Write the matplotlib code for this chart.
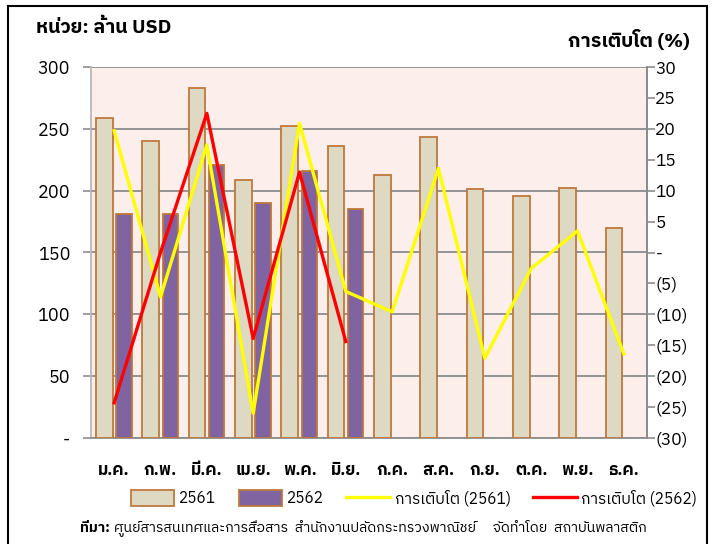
import matplotlib
matplotlib.use('Agg')
import matplotlib.pyplot as plt
from matplotlib import font_manager, ft2font
from matplotlib.patches import Rectangle, Patch
from matplotlib.lines import Line2D
import numpy as np

# pick a font that has Thai glyphs
def thaiFont():
    found = []
    for f in font_manager.fontManager.ttflist:
        try:
            if 0x0E01 in ft2font.FT2Font(f.fname).get_charmap():
                found.append(f.name)
        except Exception:
            pass
    for name in found:
        if 'Thai' in name:
            return name
    return found[0] if found else 'DejaVu Sans'

fnt = thaiFont()
plt.rcParams['font.family'] = [fnt, 'DejaVu Sans']

# data
months = ['ม.ค.', 'ก.พ.', 'มี.ค.', 'เม.ย.', 'พ.ค.', 'มิ.ย.',
          'ก.ค.', 'ส.ค.', 'ก.ย.', 'ต.ค.', 'พ.ย.', 'ธ.ค.']
val2561 = [259, 240, 283, 209, 252, 236, 213, 243, 201, 196, 202, 170]
val2562 = [181, 181, 221, 190, 216, 185]
grow2561 = [19.7, -7.2, 17.4, -26.0, 20.9, -6.3, -9.6, 13.6, -17.1, -2.6, 3.5, -16.4]
grow2562 = [-24.3, 0.0, 22.5, -13.9, 13.0, -14.4]

leftTicks = [0, 50, 100, 150, 200, 250, 300]
rightTicks = list(range(-30, 31, 5))

def fmtLeft(v):
    return '-' if v == 0 else str(v)

def fmtRight(v):
    if v == 0:
        return '-'
    if v < 0:
        return '(%d)' % -v
    return str(v)

c2561 = '#DDD9C3'
c2562 = '#8064A2'
cEdge = '#C0783C'
bg = '#FCEEEA'
grid = '#8C8C8C'

fig = plt.figure(figsize=(7.17, 5.44), dpi=100)
ax = fig.add_axes([91/717, 1-438/544, (647-91)/717, (438-67)/544])
ax.set_facecolor(bg)

x = np.arange(len(months))
ax.bar(x[:len(val2561)] - 0.21, val2561, width=0.36, color=c2561,
       edgecolor=cEdge, linewidth=1.3, zorder=3)
ax.bar(x[:len(val2562)] + 0.21, val2562, width=0.33, color=c2562,
       edgecolor=cEdge, linewidth=1.3, zorder=3)

ax.set_xlim(-0.5, 11.5)
ax.set_ylim(0, 300)
ax.set_yticks(leftTicks)
ax.set_yticklabels([fmtLeft(v) for v in leftTicks], fontsize=13)
ax.set_xticks(x)
ax.set_xticklabels(months, fontsize=12, fontweight='bold')
ax.tick_params(axis='x', length=0, pad=18)
ax.tick_params(axis='y', length=6, width=1.2, color=grid, pad=9)
ax.yaxis.grid(True, color=grid, linewidth=1.3, zorder=1)
ax.set_axisbelow(True)
for s in ['left', 'bottom', 'top', 'right']:
    ax.spines[s].set_color(grid)
    ax.spines[s].set_linewidth(1.3)
ax.spines['left'].set_color('#B8B8B8')
ax.spines['top'].set_visible(False)

ax2 = ax.twinx()
ax2.plot(x[:len(grow2561)], grow2561, color='#FFFF00', linewidth=2.4, zorder=4)
ax2.plot(x[:len(grow2562)], grow2562, color='#FF0000', linewidth=2.4, zorder=5)
ax2.set_ylim(-30, 30)
ax2.set_yticks(rightTicks)
ax2.set_yticklabels([fmtRight(v) for v in rightTicks], fontsize=12.5)
ax2.tick_params(axis='y', length=6, width=1.2, color=grid, pad=0)
for s in ['left', 'bottom', 'top', 'right']:
    ax2.spines[s].set_visible(False)
ax2.spines['right'].set_visible(True)
ax2.spines['right'].set_color(grid)
ax2.spines['right'].set_linewidth(1.3)

# titles
fig.text(36/717, 1-28/544, 'หน่วย: ล้าน USD', fontsize=14, fontweight='bold',
         ha='left', va='center')
fig.text(690/717, 1-40/544, 'การเติบโต (%)', fontsize=14, fontweight='bold',
         ha='right', va='center')

# legend
handles = [Patch(facecolor=c2561, edgecolor=cEdge, linewidth=1.3),
           Patch(facecolor=c2562, edgecolor=cEdge, linewidth=1.3),
           Line2D([], [], color='#FFFF00', linewidth=2.4),
           Line2D([], [], color='#FF0000', linewidth=2.4)]
labels = ['2561', '2562', 'การเติบโต (2561)', 'การเติบโต (2562)']
fig.legend(handles, labels, loc='center', bbox_to_anchor=(414/717, 1-498/544),
           ncol=4, frameon=False, fontsize=11.2, handlelength=2.8,
           handleheight=1.2, handletextpad=0.3, columnspacing=1.45,
           borderpad=0)

# source line
fig.text(80/717, 1-528/544, 'ที่มา:', fontsize=10.3, fontweight='bold',
         ha='left', va='center')
fig.text(114/717, 1-528/544,
         'ศูนย์สารสนเทศและการสื่อสาร  สำนักงานปลัดกระทรวงพาณิชย์     จัดทำโดย  สถาบันพลาสติก',
         fontsize=10.2, ha='left', va='center')

# outer frame
fig.patches.append(Rectangle((8/717, -0.05), (707-8)/717, 1.05-6/544,
                             transform=fig.transFigure, fill=False,
                             edgecolor='black', linewidth=1.5))

fig.savefig('out.png', dpi=100)
